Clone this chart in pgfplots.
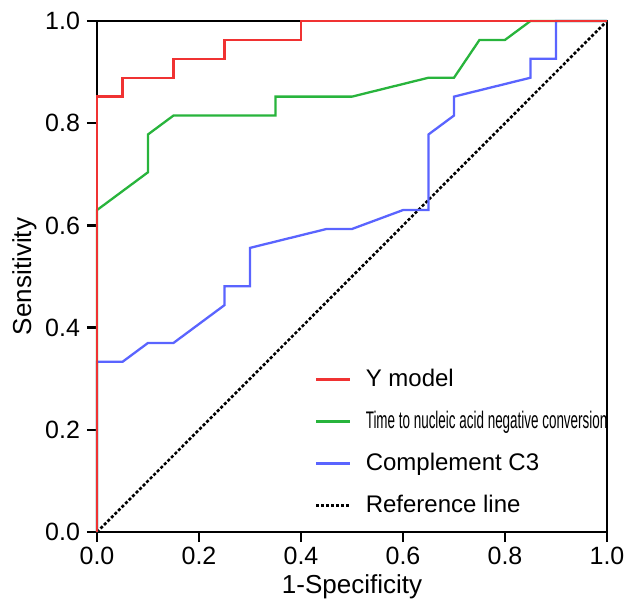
\documentclass[border=0pt]{standalone}
\usepackage{fontspec}
\setmainfont{Liberation Sans}
\usepackage{pgfplots}
\pgfplotsset{compat=1.18}
\usepackage{graphicx}

\definecolor{rocred}{RGB}{240,50,50}
\definecolor{rocgreen}{RGB}{40,180,60}
\definecolor{rocblue}{RGB}{90,100,255}

\begin{document}
\begin{tikzpicture}
\begin{axis}[
  name=ax,
  scale only axis, width=255pt, height=255.5pt,
  xmin=0, xmax=1, ymin=0, ymax=1,
  xtick={0,0.2,0.4,0.6,0.8,1.0}, ytick={0,0.2,0.4,0.6,0.8,1.0},
  xtick pos=bottom, ytick pos=left,
  xtick align=outside, ytick align=outside,
  major tick length=5pt,
  major tick style={draw=black, line width=1.2pt},
  axis line style={line width=1pt},
  /pgf/number format/assume math mode=true,
  /pgf/number format/fixed, /pgf/number format/fixed zerofill,
  /pgf/number format/precision=1,
  ticklabel style={font=\fontsize{12.5}{14}\selectfont},
  xticklabel style={yshift=1pt},
  xlabel={1-Specificity}, ylabel={Sensitivity},
  label style={font=\fontsize{13}{15}\selectfont},
  xlabel style={yshift=2pt},
  ylabel style={yshift=-2.5pt},
  clip mode=individual,
  reverse legend,
  legend cell align=left,
  legend style={draw=none, fill=none, at={(0.415,0.335)}, anchor=north west,
    font=\fontsize{12}{14}\selectfont, row sep=6.8pt,
    /tikz/every odd column/.append style={column sep=5pt}},
]
\addplot[black, line width=1.3pt, dash pattern=on 1.5pt off 1pt] coordinates {(0,0)(1,1)};
\addlegendentry{Reference line}
\addplot[rocblue, line width=1.15pt, clip=false] coordinates {
 (0,0)(0,0.333)(0.05,0.333)(0.1,0.370)(0.15,0.370)(0.25,0.444)(0.25,0.481)
 (0.3,0.481)(0.3,0.556)(0.45,0.593)(0.5,0.593)(0.6,0.630)(0.65,0.630)
 (0.65,0.778)(0.7,0.815)(0.7,0.852)(0.85,0.889)(0.85,0.926)(0.9,0.926)
 (0.9,1)(1,1)};
\addlegendentry{Complement C3}
\addplot[rocgreen, line width=1.15pt, clip=false] coordinates {
 (0,0)(0,0.630)(0.1,0.704)(0.1,0.778)(0.15,0.815)(0.35,0.815)(0.35,0.852)
 (0.5,0.852)(0.65,0.889)(0.7,0.889)(0.75,0.963)(0.8,0.963)(0.85,1)(1,1)};
\addlegendentry{\scalebox{0.56}[1]{Time to nucleic acid negative conversion}}
\addplot[rocred, line width=1.15pt, clip=false] coordinates {
 (0,0)(0,0.852)(0.05,0.852)(0.05,0.889)(0.15,0.889)(0.15,0.926)(0.25,0.926)
 (0.25,0.963)(0.4,0.963)(0.4,1)(1,1)};
\addlegendentry{Y model}
\end{axis}
\pgfresetboundingbox
\useasboundingbox ([shift={(-48.5pt,-33.5pt)}]ax.south west)
  rectangle ([shift={(8.5pt,10.5pt)}]ax.north east);
\end{tikzpicture}
\end{document}
